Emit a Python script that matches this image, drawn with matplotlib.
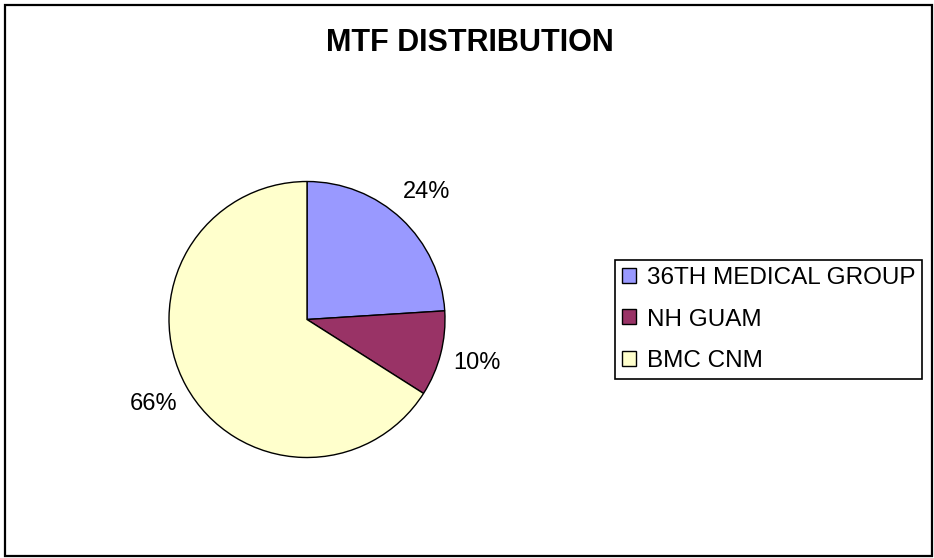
import matplotlib.pyplot as plt
from matplotlib.patches import Rectangle

plt.rcParams["font.family"] = ["Liberation Sans", "DejaVu Sans"]

categorias = ["36TH MEDICAL GROUP", "NH GUAM", "BMC CNM"]
porcentajes = [24, 10, 66]
colores = ["#9999FF", "#993366", "#FFFFCC"]

W, H = 934, 558
fig = plt.figure(figsize=(W / 100, H / 100), dpi=100)
fig.patch.set_facecolor("white")

# borde exterior del grafico
fig.patches.append(Rectangle((5 / W, 2 / H), 927 / W, 551 / H, transform=fig.transFigure,
                             fill=False, edgecolor="black", linewidth=1.6))

# eje del pastel: centro (307, 319.5) px, radio 138 px
cx, cy, r = 307, 319.5, 138
ax = fig.add_axes([(cx - r) / W, (H - cy - r) / H, 2 * r / W, 2 * r / H])
cunas, textos, pcts = ax.pie(porcentajes, colors=colores, startangle=90, counterclock=False,
                             autopct="%1.0f%%", pctdistance=1.27,
                             wedgeprops={"edgecolor": "black", "linewidth": 1.0})
for t in pcts:
    t.set_fontsize(17)
    t.set_color("black")
ax.set_xlim(-1, 1)
ax.set_ylim(-1, 1)
ax.set_aspect("equal")

fig.text(470 / W, 1 - 43 / H, "MTF DISTRIBUTION", ha="center", va="center",
         fontsize=22, fontweight="bold")

leg = fig.legend(cunas, categorias, loc="center left",
                 bbox_to_anchor=(615 / W, 1 - 319.5 / H), borderaxespad=0,
                 fontsize=17.5, frameon=True, fancybox=False, framealpha=1,
                 edgecolor="black", handlelength=0.58, handleheight=0.58,
                 handletextpad=0.42, borderpad=0.3, labelspacing=0.8)
leg.get_frame().set_linewidth(1.2)
for h in leg.legend_handles:
    h.set_edgecolor("black")
    h.set_linewidth(1.0)

fig.savefig("out.png", dpi=100)
